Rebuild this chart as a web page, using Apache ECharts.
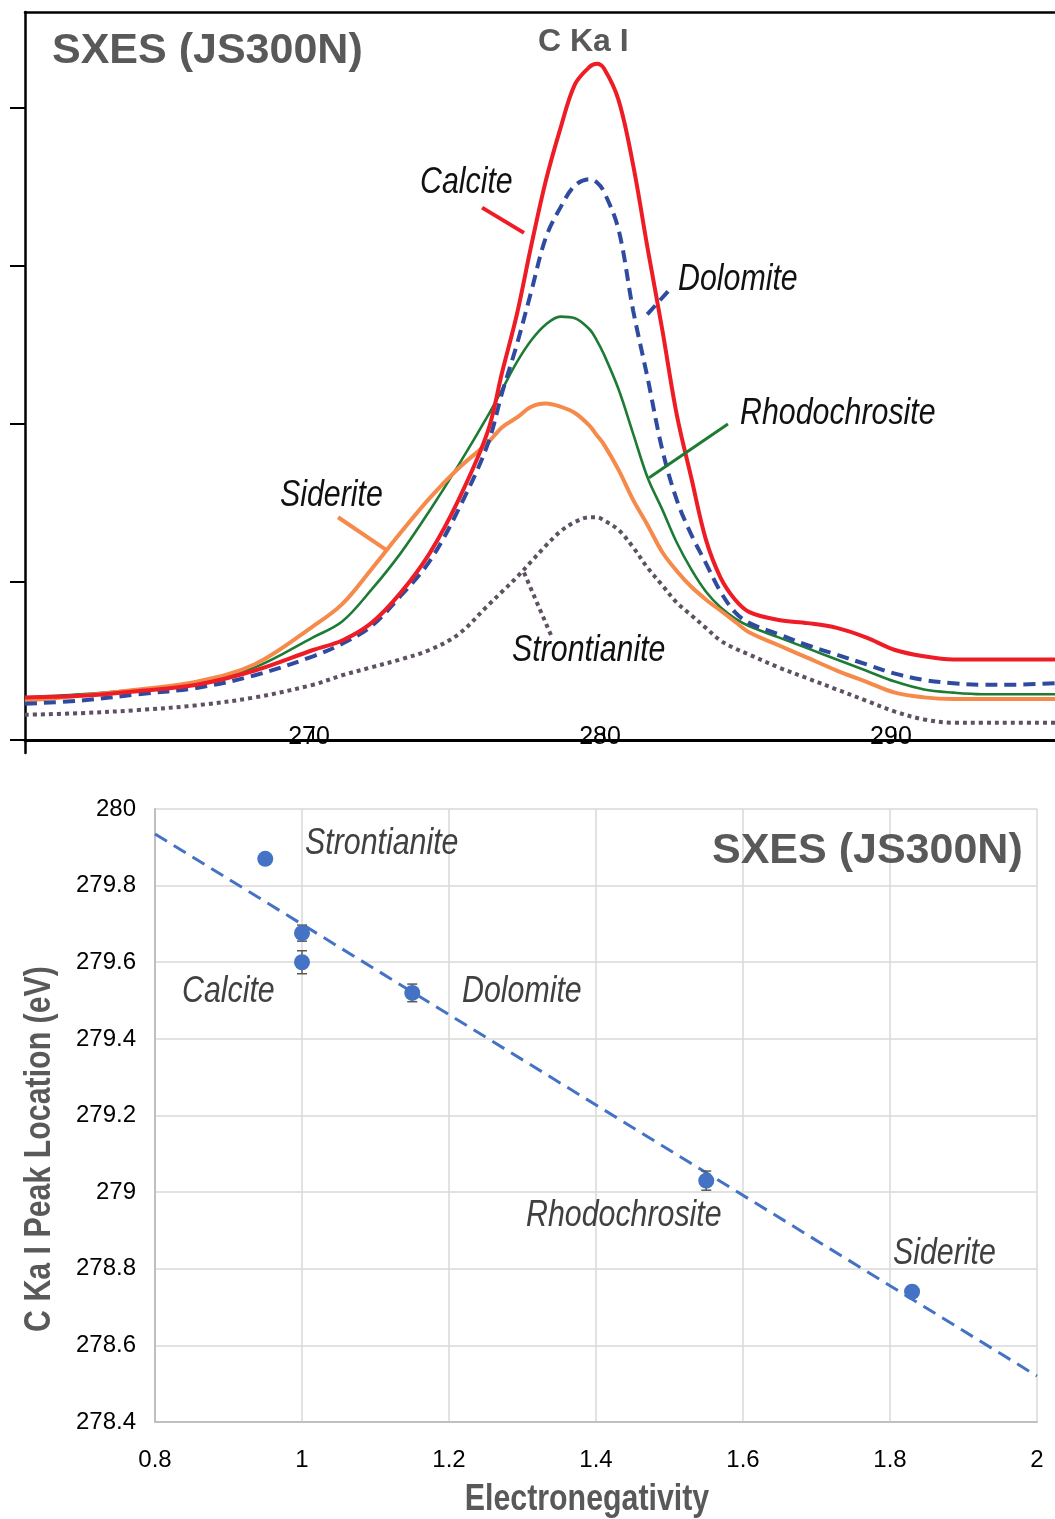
<!DOCTYPE html>
<html>
<head>
<meta charset="utf-8">
<script src="https://cdn.jsdelivr.net/npm/echarts@6/dist/echarts.min.js"></script>
<style>
html, body { margin: 0; padding: 0; background: #fff; }
#main { width: 1055px; height: 1519px; }
</style>
</head>
<body>
<div id="main"></div>
<script>
'use strict';

// spectra (top panel), intensity in arbitrary units
var energy = [260.1, 262, 264, 266, 268, 270, 271, 272, 273, 274, 275, 276, 276.5, 277, 277.5, 278, 278.5, 279, 279.5, 279.75,
	280, 280.5, 281, 281.5, 282, 282.5, 283, 283.5, 284, 284.5, 285, 286, 287, 288, 289, 290, 291, 292, 293, 294, 295.5];
var calcite = [0.27, 0.28, 0.31, 0.35, 0.44, 0.57, 0.63, 0.74, 0.93, 1.18, 1.52, 1.95, 2.33, 2.69, 3.13, 3.54, 3.87, 4.15, 4.26, 4.28,
	4.25, 4.05, 3.64, 3.11, 2.60, 2.06, 1.66, 1.27, 1.03, 0.89, 0.81, 0.76, 0.74, 0.71, 0.65, 0.57, 0.53, 0.51, 0.51, 0.51, 0.51];
var dolomite = [0.23, 0.25, 0.29, 0.33, 0.41, 0.53, 0.61, 0.72, 0.91, 1.13, 1.46, 1.87, 2.20, 2.50, 2.84, 3.18, 3.37, 3.51, 3.55, 3.53,
	3.47, 3.23, 2.72, 2.29, 1.84, 1.52, 1.30, 1.12, 0.94, 0.81, 0.74, 0.67, 0.60, 0.54, 0.48, 0.42, 0.38, 0.36, 0.35, 0.35, 0.36];
var rhodochrosite = [0.27, 0.29, 0.32, 0.36, 0.46, 0.65, 0.75, 0.95, 1.18, 1.45, 1.74, 2.05, 2.22, 2.39, 2.53, 2.63, 2.68, 2.67, 2.60, 2.53,
	2.44, 2.22, 1.94, 1.66, 1.46, 1.25, 1.08, 0.94, 0.84, 0.77, 0.72, 0.65, 0.58, 0.51, 0.44, 0.37, 0.32, 0.30, 0.29, 0.29, 0.29];
var siderite = [0.25, 0.28, 0.32, 0.37, 0.48, 0.72, 0.86, 1.08, 1.31, 1.53, 1.72, 1.88, 1.98, 2.04, 2.11, 2.13, 2.11, 2.07, 1.99, 1.93,
	1.87, 1.71, 1.52, 1.36, 1.19, 1.07, 0.97, 0.89, 0.82, 0.75, 0.68, 0.60, 0.52, 0.44, 0.37, 0.30, 0.27, 0.26, 0.26, 0.26, 0.26];
var strontianite = [0.16, 0.17, 0.19, 0.22, 0.27, 0.35, 0.41, 0.46, 0.51, 0.57, 0.67, 0.85, 0.94, 1.03, 1.13, 1.23, 1.32, 1.38, 1.41, 1.41,
	1.39, 1.33, 1.22, 1.09, 0.98, 0.87, 0.79, 0.71, 0.63, 0.58, 0.54, 0.46, 0.39, 0.32, 0.25, 0.18, 0.13, 0.11, 0.11, 0.11, 0.11];
var energyTicks = [270, 280, 290];
var intensityTicks = [0, 1, 2, 3, 4];

// leader lines from the curve names to the curves, [energy, intensity]
var calciteLeader = [[275.81, 3.37], [277.25, 3.21]];
var dolomiteLeader = [[282.20, 2.84], [281.37, 2.67]];
var rhodoLeader = [[284.26, 2.00], [281.55, 1.66]];
var sideriteLeader = [[270.86, 1.41], [272.54, 1.20]];
var strontLeader = [[277.25, 1.06], [278.21, 0.65]];

// peak location vs electronegativity (bottom panel)
var minerals = ['Strontianite', 'Calcite', 'Calcite', 'Dolomite', 'Rhodochrosite', 'Siderite'];
var electroneg = [0.95, 1.0, 1.0, 1.15, 1.55, 1.83];
var peakLoc = [279.87, 279.676, 279.60, 279.52, 279.03, 278.74];
var peakErr = [0.004, 0.021, 0.03, 0.023, 0.025, 0.006];
var trendX = [0.8, 2.0];
var trendY = [279.935, 278.52];

// no narrow face installed, so narrow text is squeezed horizontally
var SANS = "'Liberation Sans', Arial, sans-serif";
var SQUEEZE = 0.82;

function zip(xs, ys) {
	return xs.map(function (x, i) { return [x, ys[i]]; });
}

function curve(data, color, width, type, z) {
	return {
		type: 'line', xAxisIndex: 0, yAxisIndex: 0,
		data: data, smooth: 0.35, showSymbol: false, z: z,
		lineStyle: {color: color, width: width, type: type, cap: 'butt'},
		silent: true
	};
}

function leader(data, color, width, type) {
	return {
		type: 'line', xAxisIndex: 0, yAxisIndex: 0,
		data: data, showSymbol: false, z: 6,
		lineStyle: {color: color, width: width, type: type, cap: 'butt'},
		silent: true
	};
}

function label(text, x, y, size, color, opts) {
	opts = opts || {};
	return {
		type: 'text', x: x, y: y, z: 20,
		scaleX: opts.wide ? 1 : SQUEEZE,
		rotation: opts.rotation || 0,
		style: {
			text: text, fill: color,
			font: (opts.weight || 'italic') + ' ' + size + 'px ' + SANS,
			align: opts.align || 'left', verticalAlign: 'middle'
		}
	};
}

var chart = echarts.init(document.getElementById('main'), null, {renderer: 'canvas'});

var option = {
	animation: false,
	backgroundColor: '#fff',
	grid: [
		{left: 25, right: 0, top: 12, bottom: 766},
		{left: 155, right: 18, top: 809, bottom: 97}
	],
	xAxis: [
		{
			type: 'value', gridIndex: 0, min: 260.1, max: 295.5,
			axisLine: {show: true, lineStyle: {color: '#000', width: 3}},
			axisTick: {show: true, inside: true, length: 12, customValues: energyTicks, lineStyle: {color: '#000', width: 2}},
			axisLabel: {show: true, inside: true, margin: 3, customValues: energyTicks, color: '#000', fontSize: 25, fontFamily: SANS, padding: [0, 8, 0, 0]},
			splitLine: {show: false}
		},
		{
			type: 'value', gridIndex: 0, position: 'top', min: 260.1, max: 295.5,
			axisLine: {show: true, lineStyle: {color: '#000', width: 2.5}},
			axisTick: {show: false}, axisLabel: {show: false}, splitLine: {show: false}
		},
		{
			type: 'value', gridIndex: 1, min: 0.8, max: 2, interval: 0.2,
			axisLine: {show: true, lineStyle: {color: '#bfbfbf', width: 2}},
			axisTick: {show: false},
			axisLabel: {color: '#000', fontSize: 24, fontFamily: SANS, margin: 26},
			splitLine: {show: true, lineStyle: {color: '#d9d9d9', width: 1.5}}
		}
	],
	yAxis: [
		{
			type: 'value', gridIndex: 0, min: -0.082, max: 4.608,
			axisLine: {show: true, lineStyle: {color: '#000', width: 2.5}},
			axisTick: {show: true, inside: false, length: 15, customValues: intensityTicks, lineStyle: {color: '#000', width: 2}},
			axisLabel: {show: false}, splitLine: {show: false}
		},
		{
			type: 'value', gridIndex: 1, min: 278.4, max: 280, interval: 0.2,
			axisLine: {show: true, lineStyle: {color: '#bfbfbf', width: 2}},
			axisTick: {show: false},
			axisLabel: {color: '#000', fontSize: 24, fontFamily: SANS, margin: 19},
			splitLine: {show: true, lineStyle: {color: '#d9d9d9', width: 1.5}}
		}
	],
	series: [
		curve(zip(energy, strontianite), '#5E5262', 4, [4, 4], 2),
		curve(zip(energy, rhodochrosite), '#1E7B34', 2.6, 'solid', 3),
		curve(zip(energy, siderite), '#F68A4A', 4, 'solid', 3),
		curve(zip(energy, dolomite), '#2E4B9F', 4, [12, 7], 4),
		curve(zip(energy, calcite), '#EE1C25', 4, 'solid', 5),
		leader(calciteLeader, '#EE1C25', 4, 'solid'),
		leader(dolomiteLeader, '#2E4B9F', 4, [12, 7]),
		leader(rhodoLeader, '#1E7B34', 3, 'solid'),
		leader(sideriteLeader, '#F68A4A', 4, 'solid'),
		leader(strontLeader, '#5E5262', 4, [4, 4]),
		{
			type: 'line', xAxisIndex: 2, yAxisIndex: 1,
			data: zip(trendX, trendY), showSymbol: false, z: 2,
			lineStyle: {color: '#4472C4', width: 3, type: [14, 8], cap: 'butt'},
			silent: true
		},
		{
			type: 'custom', xAxisIndex: 2, yAxisIndex: 1, z: 3, silent: true,
			data: electroneg.map(function (x, i) { return [x, peakLoc[i] - peakErr[i], peakLoc[i] + peakErr[i]]; }),
			renderItem: function (params, api) {
				var lo = api.coord([api.value(0), api.value(1)]);
				var hi = api.coord([api.value(0), api.value(2)]);
				var w = 5, st = {stroke: '#595959', lineWidth: 1.5};
				return {
					type: 'group',
					children: [
						{type: 'line', shape: {x1: lo[0], y1: lo[1], x2: hi[0], y2: hi[1]}, style: st},
						{type: 'line', shape: {x1: lo[0] - w, y1: lo[1], x2: lo[0] + w, y2: lo[1]}, style: st},
						{type: 'line', shape: {x1: hi[0] - w, y1: hi[1], x2: hi[0] + w, y2: hi[1]}, style: st}
					]
				};
			}
		},
		{
			type: 'scatter', xAxisIndex: 2, yAxisIndex: 1, z: 4,
			data: zip(electroneg, peakLoc), symbolSize: 16,
			itemStyle: {color: '#4472C4', opacity: 1}, silent: true
		}
	],
	graphic: [
		label('SXES (JS300N)', 52, 51, 43, '#595959', {weight: 'bold', wide: true}),
		label('C Ka I', 538, 42, 32, '#595959', {weight: 'bold', wide: true}),
		label('Calcite', 420, 183, 37, '#111'),
		label('Dolomite', 678, 280, 37, '#111'),
		label('Rhodochrosite', 740, 414, 37, '#111'),
		label('Siderite', 280, 496, 37, '#111'),
		label('Strontianite', 512, 651, 37, '#111'),
		label('SXES (JS300N)', 712, 851, 43, '#595959', {weight: 'bold', wide: true}),
		label(minerals[0], 305, 844, 37, '#404040'),
		label(minerals[1], 182, 992, 37, '#404040'),
		label(minerals[3], 462, 992, 37, '#404040'),
		label(minerals[4], 526, 1216, 37, '#404040'),
		label(minerals[5], 893, 1254, 37, '#404040'),
		label('Electronegativity', 587, 1500, 37, '#595959', {weight: 'bold', align: 'center'}),
		label('C Ka I Peak Location (eV)', 40, 1149, 37, '#595959', {weight: 'bold', align: 'center', rotation: Math.PI / 2})
	]
};

chart.setOption(option);
</script>
</body>
</html>
